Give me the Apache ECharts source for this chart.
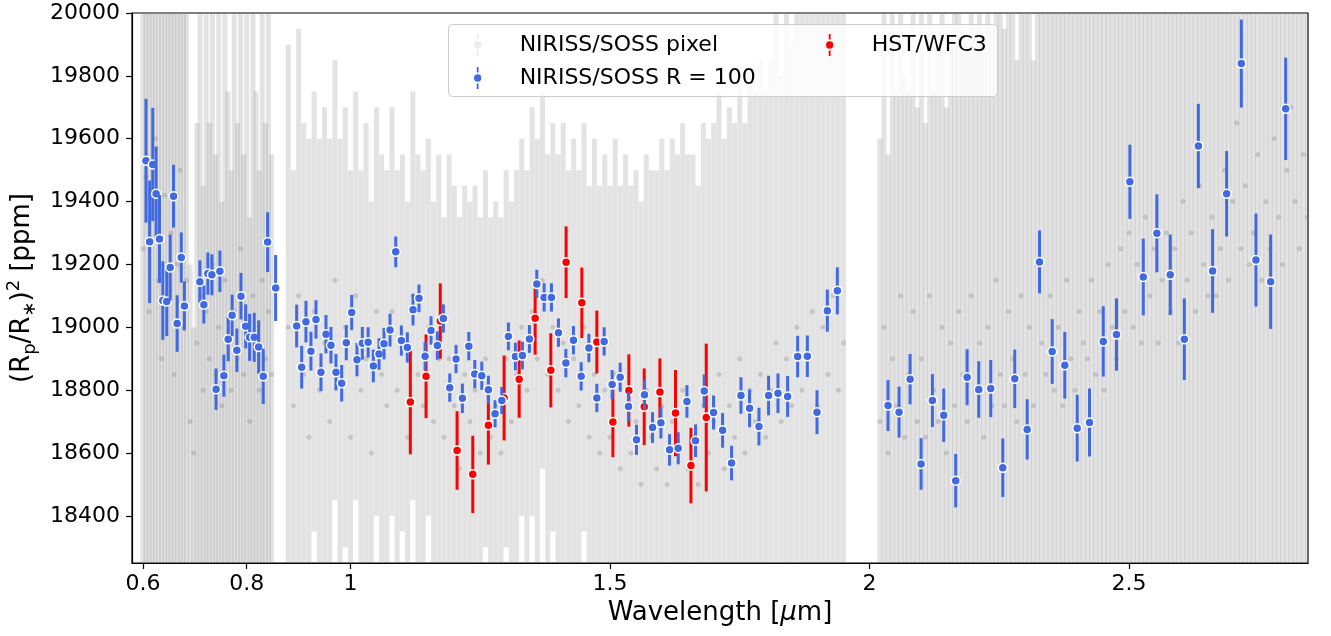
<!DOCTYPE html>
<html>
<head>
<meta charset="utf-8">
<script src="https://cdn.jsdelivr.net/npm/echarts@6/dist/echarts.min.js"></script>
<style>
  html, body { margin: 0; padding: 0; background: #fff; }
  #chart { width: 1331px; height: 636px; }
</style>
</head>
<body>
<div id="chart"></div>
<script>
// NIRISS/SOSS binned to R = 100 (wavelength [um], depth [ppm], 1-sigma [ppm])
const sossWl = [0.606, 0.613, 0.619, 0.6255, 0.632, 0.6384, 0.646, 0.6526, 0.659, 0.666, 0.674, 0.680,
  0.7098, 0.7175, 0.7252, 0.733, 0.741, 0.7484, 0.756, 0.7644, 0.772, 0.781, 0.789, 0.798, 0.8056, 0.8145,
  0.823, 0.8319, 0.8403, 0.8558,
  0.8963, 0.906, 0.9142, 0.9238, 0.9335, 0.9431, 0.9528, 0.9624, 0.972, 0.983, 0.9919, 1.0023, 1.0125,
  1.0228, 1.034, 1.044, 1.055, 1.0646, 1.0762, 1.0872, 1.098, 1.1095, 1.1205, 1.132, 1.1437, 1.1552, 1.1674,
  1.179, 1.1913, 1.2034, 1.2156, 1.228, 1.2395, 1.253, 1.2657, 1.2786, 1.2915, 1.3043, 1.3178, 1.3313,
  1.3448, 1.359, 1.3731, 1.3872, 1.4007, 1.415, 1.4296, 1.4445, 1.4593, 1.4747, 1.4888, 1.5042, 1.5197,
  1.5357, 1.5511, 1.5665, 1.582, 1.5982, 1.6148, 1.6315, 1.6483, 1.6649, 1.6816, 1.6996, 1.717, 1.7343,
  1.7524, 1.769, 1.7871, 1.8056, 1.8237, 1.8423, 1.8616, 1.8803, 1.8989, 1.9188, 1.9381,
  2.0358, 2.057, 2.0783, 2.0995, 2.1213, 2.1431, 2.1662, 2.1882, 2.2106, 2.2337, 2.2569, 2.28, 2.3039,
  2.3276, 2.3521, 2.3764, 2.4003, 2.424, 2.4505, 2.476, 2.5018, 2.5276, 2.5538, 2.5796, 2.6067, 2.6337,
  2.6612, 2.6882, 2.7165, 2.7447, 2.773, 2.802];
const sossDepth = [19530, 19272, 19518, 19425, 19281, 19085, 19082, 19190, 19417, 19012, 19222, 19068,
  19145, 19072, 19171, 19167, 18803, 19178, 18846, 18962, 19038, 18927, 19099, 19003, 18968, 18968,
  18937, 18844, 19271, 19125,
  19004, 18873, 19018, 18924, 19025, 18857, 18978, 18943, 18857, 18822, 18951, 19047, 18897,
  18949, 18952, 18877, 18915, 18948, 18991, 19240, 18958, 18936, 19056, 19092, 18908, 18990, 18942,
  19028, 18808, 18899, 18774, 18940, 18851, 18846, 18801, 18725, 18767, 18971, 18907, 18910,
  18963, 19138, 19095, 19095, 18983, 18886, 18959, 18844, 18934, 18775, 18955, 18818, 18841,
  18748, 18642, 18785, 18681, 18696, 18610, 18615, 18764, 18639, 18797, 18729, 18672, 18568,
  18783, 18742, 18684, 18783, 18790, 18780, 18907, 18908, 18730, 19053, 19116,
  18751, 18730, 18835, 18565, 18767, 18720, 18512, 18841, 18802, 18805, 18553, 18836, 18675,
  19208, 18923, 18879, 18679, 18697, 18955, 18977, 19463, 19160, 19299, 19167, 18962, 19577,
  19179, 19425, 19839, 19214, 19145, 19695];
const sossErr = [197, 195, 180, 150, 140, 125, 110, 105, 100, 90, 80, 78,
  68, 60, 67, 65, 66, 66, 67, 70, 66, 69, 74, 70, 75, 78, 85, 88, 95, 105,
  68, 68, 66, 62, 61, 60, 61, 58, 58, 58, 56, 56, 53,
  52, 48, 52, 50, 50, 52, 49, 48, 48, 50, 44, 45, 45, 45,
  45, 45, 45, 47, 45, 45, 45, 45, 43, 43, 44, 44, 44,
  44, 45, 45, 45, 45, 45, 45, 45, 45, 45, 45, 46, 46,
  47, 48, 48, 49, 50, 50, 51, 52, 52, 53, 54, 55, 55,
  58, 60, 60, 63, 63, 65, 66, 66, 70, 67, 75,
  81, 81, 80, 82, 84, 85, 85, 89, 90, 91, 93, 93, 96,
  100, 103, 106, 106, 108, 112, 115, 118, 122, 124, 128, 130, 134,
  133, 136, 140, 148, 150, 163];

// HST/WFC3
const hstWl = [1.1153, 1.1456, 1.173, 1.2054, 1.2356, 1.2657, 1.296, 1.325, 1.3558, 1.386,
  1.4155, 1.4458, 1.4747, 1.5056, 1.5364, 1.566, 1.5962, 1.6263, 1.656, 1.6855];
const hstDepth = [18762, 18844, 19020, 18608, 18532, 18688, 18775, 18835, 19029, 18863,
  19207, 19078, 18953, 18699, 18799, 18747, 18794, 18727, 18560, 18713];
const hstErr = [166, 133, 120, 125, 123, 125, 135, 123, 116, 118,
  114, 112, 100, 112, 115, 122, 107, 137, 120, 235];

// NIRISS/SOSS native pixel spectrum (background)
const pixelWl = [
  0.600, 0.606, 0.612, 0.618, 0.624, 0.630, 0.636, 0.642, 0.648, 0.654, 0.660, 0.666, 0.672, 0.678, 0.684,
  0.691, 0.698,
  0.704, 0.710, 0.716, 0.722, 0.728, 0.734, 0.740, 0.746, 0.752, 0.758, 0.764, 0.770, 0.776, 0.782, 0.788,
  0.794, 0.800, 0.806, 0.812, 0.818, 0.824, 0.830, 0.836, 0.842, 0.848,
  0.88, 0.89, 0.90, 0.91, 0.92, 0.93, 0.94, 0.95, 0.96, 0.97,
  0.98, 0.99, 1.00, 1.01, 1.02, 1.03, 1.04, 1.05, 1.06, 1.07,
  1.08, 1.09, 1.10, 1.11, 1.12, 1.13, 1.14, 1.15, 1.16, 1.17,
  1.18, 1.19, 1.20, 1.21, 1.22, 1.23, 1.24, 1.25, 1.26, 1.27,
  1.28, 1.29, 1.30, 1.31, 1.32, 1.33, 1.34, 1.35, 1.36, 1.37,
  1.38, 1.39, 1.40, 1.41, 1.42, 1.43, 1.44, 1.45, 1.46, 1.47,
  1.48, 1.49, 1.50, 1.51, 1.52, 1.53, 1.54, 1.55, 1.56, 1.57,
  1.58, 1.59, 1.60, 1.61, 1.62, 1.63, 1.64, 1.65, 1.66, 1.67,
  1.68, 1.69, 1.70, 1.71, 1.72, 1.73, 1.74, 1.75, 1.76, 1.77,
  1.78, 1.79, 1.80, 1.81, 1.82, 1.83, 1.84, 1.85, 1.86, 1.87,
  1.88, 1.89, 1.90, 1.91, 1.92, 1.93, 1.94, 1.95,
  2.020, 2.028, 2.036, 2.044, 2.052, 2.060, 2.068, 2.076, 2.084, 2.092,
  2.100, 2.108, 2.116, 2.124, 2.132, 2.140, 2.148, 2.156, 2.164, 2.172,
  2.180, 2.188, 2.196, 2.204, 2.212, 2.220, 2.228, 2.236, 2.244, 2.252,
  2.260, 2.268, 2.276, 2.284, 2.292, 2.300, 2.308, 2.316, 2.324, 2.332,
  2.340, 2.348, 2.356, 2.364, 2.372, 2.380, 2.388, 2.396, 2.404, 2.412,
  2.420, 2.428, 2.436, 2.444, 2.452, 2.460, 2.468, 2.476, 2.484, 2.492,
  2.500, 2.508, 2.516, 2.524, 2.532, 2.540, 2.548, 2.556, 2.564, 2.572,
  2.580, 2.588, 2.596, 2.604, 2.612, 2.620, 2.628, 2.636, 2.644, 2.652,
  2.660, 2.668, 2.676, 2.684, 2.692, 2.700, 2.708, 2.716, 2.724, 2.732,
  2.740, 2.748, 2.756, 2.764, 2.772, 2.780, 2.788, 2.796, 2.804, 2.812,
  2.820, 2.828, 2.836, 2.844];
const pixelDepth = [
  19250, 19480, 19050, 19350, 19600, 19150, 18900, 19420, 19080, 19300, 18850, 19200, 19500, 19000, 19150,
  18700, 18600,
  18950, 19100, 18800, 19050, 18900, 19200, 18850, 19000, 18750, 19150, 18950, 18800, 19050, 18900, 19250,
  18850, 19000, 18700, 19100, 18950, 18800, 19150, 18900, 19050, 18850,
  19000, 18750, 19100, 18850, 18650, 19050, 18800, 18950, 18700, 19150,
  18850, 19000, 18650, 19100, 18800, 18900, 18600, 19050, 18850, 18750,
  19050, 18800, 18950, 18650, 19100, 18850, 18750, 19000, 18700, 18900,
  18650, 18900, 18750, 18550, 18850, 18700, 18800, 18600, 18900, 18650,
  18750, 18600, 18900, 18700, 18850, 19000, 18800, 19050, 18900, 19150,
  18850, 19000, 18800, 18950, 18700, 18900, 18750, 19000, 18650, 18850,
  18600, 18800, 18650, 18850, 18550, 18750, 18600, 18700, 18500, 18800,
  18650, 18550, 18750, 18500, 18700, 18600, 18800, 18550, 18650, 18500,
  18750, 18600, 18700, 18850, 18550, 18750, 18650, 18900, 18600, 18800,
  18700, 18850, 18650, 18800, 18950, 18700, 18900, 18750, 19000, 18800,
  18900, 19050, 18750, 19000, 18850, 19100, 18800, 18950,
  18700, 19000, 18600, 18900, 18750, 19100, 18650, 18850, 19050, 18700,
  18900, 18650, 19100, 18800, 18700, 19000, 18600, 18950, 18750, 19050,
  18850, 18700, 19100, 18800, 18950, 18650, 19000, 18750, 19150, 18850,
  18750, 19050, 18900, 18700, 19100, 18850, 19000, 18750, 19200, 18950,
  18850, 19100, 18800, 19000, 18750, 19150, 18900, 18800, 19050, 18950,
  18900, 19150, 18850, 19050, 18800, 19200, 19000, 18900, 19250, 19050,
  19300, 19000, 19200, 18950, 19350, 19100, 19250, 18950, 19150, 19300,
  19050, 19250, 18950, 19400, 19150, 19300, 19050, 19450, 19200, 19100,
  19350, 19100, 19250, 19500, 19150, 19400, 19650, 19250, 19450, 19200,
  19300, 19550, 19150, 19400, 19250, 19600, 19350, 19200, 19500, 19700,
  19400, 19250, 19550, 19350];
const pixelErr = [
  1500, 1800, 1300, 1600, 1900, 1400, 1200, 1700, 1350, 1500, 1200, 1450, 1750, 1300, 1400,
  500, 400,
  700, 1300, 650, 1400, 750, 1200, 700, 1500, 650, 1300, 800, 700, 1400, 750, 1250,
  700, 1350, 650, 1500, 800, 700, 1300, 750, 1400, 700,
  900, 750, 850, 800, 950, 700, 800, 750, 900, 700,
  750, 700, 850, 650, 700, 750, 800, 650, 700, 750,
  650, 700, 600, 750, 650, 700, 750, 600, 700, 650,
  700, 650, 700, 800, 600, 700, 650, 750, 600, 700,
  650, 750, 600, 700, 650, 600, 700, 650, 700, 600,
  700, 650, 750, 700, 800, 700, 750, 650, 800, 750,
  850, 750, 800, 750, 900, 800, 850, 800, 900, 750,
  850, 950, 850, 1000, 900, 950, 850, 1000, 900, 950,
  900, 1000, 950, 900, 1050, 950, 1000, 900, 1050, 1000,
  1050, 1000, 1100, 1050, 1150, 1100, 1200, 1150, 1250, 1300,
  1300, 1400, 1350, 1450, 1400, 1500, 1450, 1550,
  900, 1100, 950, 1200, 1000, 1050, 1150, 900, 1200, 1000,
  1100, 1000, 1150, 950, 1200, 1050, 1100, 1000, 1250, 1050,
  1100, 1200, 1000, 1150, 1050, 1250, 1100, 1200, 1000, 1150,
  1200, 1100, 1250, 1150, 1050, 1300, 1200, 1100, 1250, 1150,
  1250, 1150, 1300, 1200, 1350, 1100, 1250, 1300, 1200, 1350,
  1300, 1250, 1400, 1200, 1350, 1300, 1250, 1400, 1300, 1350,
  1400, 1300, 1450, 1350, 1400, 1500, 1350, 1450, 1400, 1500,
  1450, 1400, 1550, 1350, 1500, 1450, 1600, 1400, 1500, 1550,
  1500, 1600, 1450, 1550, 1650, 1500, 1600, 1550, 1650, 1700,
  1600, 1700, 1650, 1550, 1750, 1650, 1700, 1800, 1650, 1750,
  1800, 1700, 1850, 1750];

const xTicks = [0.6, 0.8, 1, 1.5, 2, 2.5];
const yTicks = [18400, 18600, 18800, 19000, 19200, 19400, 19600, 19800, 20000];

const FONT = 'DejaVu Sans';
const BLUE = '#4169e1';
const RED = '#ff0000';
const PIXEL_LINE = 'rgba(128,128,128,0.22)';
const PIXEL_DOT = 'rgba(128,128,128,0.3)';

function triples(wl, val, err) {
    return wl.map((w, i) => [w, val[i], err[i]]);
}

// vertical error bar with a round marker on top
function errorBar(lineColor, lineWidth, dotColor, radius, edge) {
    return function (params, api) {
        const x = api.value(0), y = api.value(1), e = api.value(2);
        const top = api.coord([x, y + e]);
        const bot = api.coord([x, y - e]);
        const mid = api.coord([x, y]);
        return {
            type: 'group',
            children: [
                {
                    type: 'line',
                    shape: {x1: top[0], y1: top[1], x2: bot[0], y2: bot[1]},
                    style: {stroke: lineColor, lineWidth: lineWidth}
                },
                {
                    type: 'circle',
                    shape: {cx: mid[0], cy: mid[1], r: radius},
                    style: edge ? {fill: dotColor, stroke: edge, lineWidth: 1.5} : {fill: dotColor}
                }
            ]
        };
    };
}

const legendIcon = 'path://M4,0H6V6H4Z M4,18H6V24H4Z M9,12A4,4 0 1 1 1,12A4,4 0 1 1 9,12Z';
const legendText = {fontSize: 22, fontFamily: FONT, color: '#000', padding: [0, 0, 0, 32]};

const chart = echarts.init(document.getElementById('chart'), null, {renderer: 'canvas'});

chart.setOption({
    animation: false,
    backgroundColor: '#fff',
    grid: {
        left: 132, right: 23, top: 13, bottom: 73,
        outerBoundsMode: 'none',
        show: true, borderColor: '#000', borderWidth: 1.2, backgroundColor: 'transparent'
    },
    xAxis: {
        type: 'value',
        min: 0.579,
        max: 2.845,
        name: 'Wavelength [{it|μ}m]',
        nameLocation: 'middle',
        nameGap: 33,
        nameTextStyle: {fontSize: 26, fontFamily: FONT, color: '#000', rich: {it: {fontSize: 26, fontFamily: FONT, fontStyle: 'italic'}}},
        axisLine: {show: true, lineStyle: {color: '#000', width: 1.2}},
        axisTick: {show: true, customValues: xTicks, length: 6, lineStyle: {color: '#000', width: 1.2}},
        axisLabel: {customValues: xTicks, formatter: v => String(v), fontSize: 22, fontFamily: FONT, color: '#000', margin: 10},
        splitLine: {show: false}
    },
    yAxis: {
        type: 'value',
        min: 18250,
        max: 20000,
        name: '(R{sub|p}/R{sub|∗}){sup|2} [ppm]',
        nameLocation: 'middle',
        nameRotate: 90,
        nameGap: 86,
        nameTextStyle: {
            fontSize: 26, fontFamily: FONT, color: '#000', lineHeight: 34,
            rich: {
                sub: {fontSize: 18, fontFamily: FONT, verticalAlign: 'bottom'},
                sup: {fontSize: 18, fontFamily: FONT, verticalAlign: 'top'}
            }
        },
        axisLine: {show: true, lineStyle: {color: '#000', width: 1.2}},
        axisTick: {show: true, customValues: yTicks, length: 6, lineStyle: {color: '#000', width: 1.2}},
        axisLabel: {customValues: yTicks, formatter: v => String(v), fontSize: 22, fontFamily: FONT, color: '#000', margin: 12},
        splitLine: {show: false}
    },
    legend: [
        {
            data: [
                {name: 'NIRISS/SOSS pixel', icon: legendIcon},
                {name: 'NIRISS/SOSS R = 100', icon: legendIcon}
            ],
            orient: 'vertical',
            left: 469, top: 29,
            itemWidth: 10, itemHeight: 22, itemGap: 11,
            selectedMode: false,
            textStyle: legendText,
            z: 6
        },
        {
            data: [{name: 'HST/WFC3', icon: legendIcon}],
            orient: 'vertical',
            left: 821, top: 29,
            itemWidth: 10, itemHeight: 22,
            selectedMode: false,
            textStyle: legendText,
            z: 6
        }
    ],
    graphic: [{
        type: 'rect',
        left: 448, top: 24,
        shape: {width: 549, height: 72, r: 4},
        style: {fill: 'rgba(255,255,255,0.8)', stroke: '#cccccc', lineWidth: 1},
        z: 5
    }],
    series: [
        {
            name: 'NIRISS/SOSS pixel',
            type: 'custom',
            clip: true,
            itemStyle: {color: 'rgba(128,128,128,0.15)'},
            encode: {x: 0, y: 1},
            data: triples(pixelWl, pixelDepth, pixelErr),
            renderItem: errorBar(PIXEL_LINE, 5, PIXEL_DOT, 2.5, null),
            z: 2
        },
        {
            name: 'HST/WFC3',
            type: 'custom',
            clip: true,
            itemStyle: {color: RED},
            encode: {x: 0, y: 1},
            data: triples(hstWl, hstDepth, hstErr),
            renderItem: errorBar(RED, 3, RED, 4.5, '#fff'),
            z: 3
        },
        {
            name: 'NIRISS/SOSS R = 100',
            type: 'custom',
            clip: true,
            itemStyle: {color: BLUE},
            encode: {x: 0, y: 1},
            data: triples(sossWl, sossDepth, sossErr),
            renderItem: errorBar(BLUE, 3, BLUE, 4.5, '#fff'),
            z: 4
        }
    ]
});
</script>
</body>
</html>
